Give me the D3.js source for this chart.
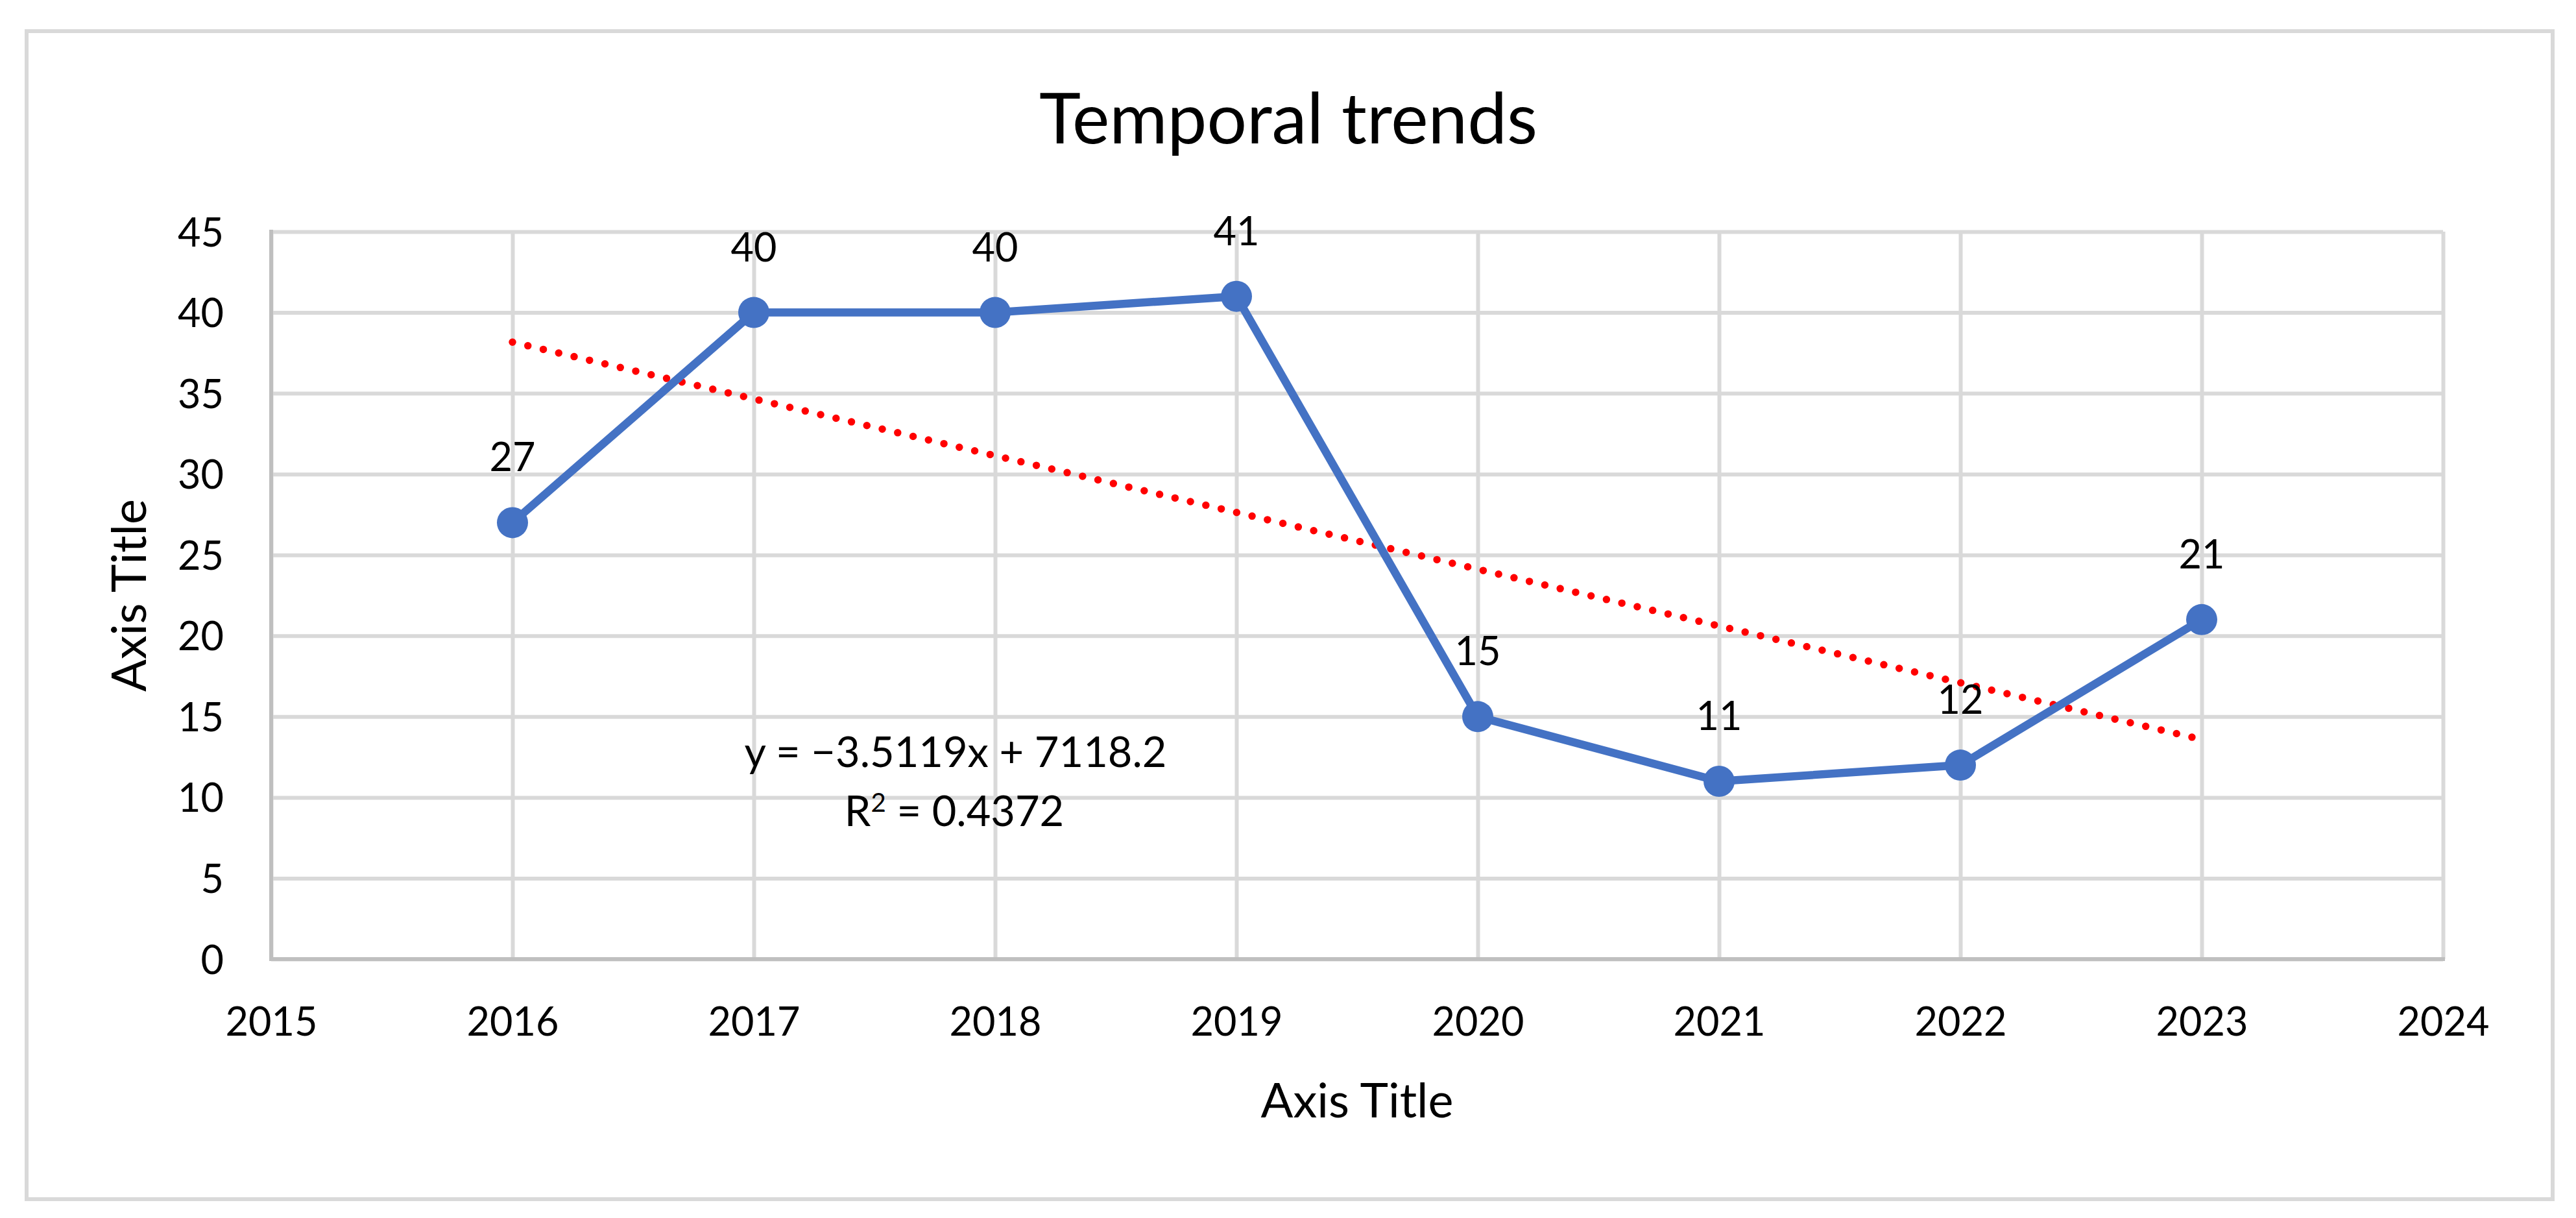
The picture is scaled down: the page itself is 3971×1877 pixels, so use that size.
<!DOCTYPE html>
<html>
<head>
<meta charset="utf-8">
<script src="https://cdn.jsdelivr.net/npm/d3@7"></script>
<style>
  html, body { margin: 0; padding: 0; background: #ffffff; }
  svg { display: block; }
</style>
</head>
<body>
<svg id="chart" width="3971" height="1877"></svg>
<script>
// ---------------- data ----------------
const years = [2016, 2017, 2018, 2019, 2020, 2021, 2022, 2023];
const values = [27, 40, 40, 41, 15, 11, 12, 21];
const xTickValues = [2015, 2016, 2017, 2018, 2019, 2020, 2021, 2022, 2023, 2024];
const yTickValues = [0, 5, 10, 15, 20, 25, 30, 35, 40, 45];
const chartTitle = "Temporal trends";
const xAxisTitle = "Axis Title";
const yAxisTitle = "Axis Title";

// ---------------- layout ----------------
const W = 3971, H = 1877;
const FONT = "Lato, 'Open Sans', 'Noto Sans', sans-serif";
const plot = { left: 418, right: 3766, top: 357, bottom: 1478 };
const GRID = "#d9d9d9", AXIS = "#bfbfbf", BLUE = "#4472c4", RED = "#ff0000";

const svg = d3.select("#chart");
svg.append("rect").attr("width", W).attr("height", H).attr("fill", "#ffffff");

// chart area border
svg.append("rect")
  .attr("x", 41).attr("y", 48)
  .attr("width", 3935 - 41).attr("height", 1848 - 48)
  .attr("fill", "none").attr("stroke", GRID).attr("stroke-width", 6);

const x = d3.scaleLinear().domain([2015, 2024]).range([plot.left, plot.right]);
const y = d3.scaleLinear().domain([0, 45]).range([plot.bottom, plot.top]);

// helper to size a text so its width matches a target width
function fitSize(text, targetWidth, refSize) {
  const t = svg.append("text").attr("font-family", FONT).attr("font-size", refSize).text(text);
  const w = t.node().getComputedTextLength();
  t.remove();
  return refSize * targetWidth / w;
}
const tickSize = fitSize("2015", 142, 100);
const titleSize = fitSize(chartTitle, 768, 100);
const axisTitleSize = fitSize(xAxisTitle, 297, 100);

// ---------------- gridlines ----------------
const gridX = svg.append("g").attr("transform", `translate(0,${plot.bottom})`)
  .call(d3.axisBottom(x).tickValues(xTickValues).tickSize(-(plot.bottom - plot.top)).tickFormat(""));
gridX.select(".domain").remove();
gridX.selectAll(".tick line").attr("stroke", GRID).attr("stroke-width", 6);

const gridY = svg.append("g").attr("transform", `translate(${plot.left},0)`)
  .call(d3.axisLeft(y).tickValues(yTickValues).tickSize(-(plot.right - plot.left)).tickFormat(""));
gridY.select(".domain").remove();
gridY.selectAll(".tick line").attr("stroke", GRID).attr("stroke-width", 6);

// axis lines
svg.append("line").attr("x1", plot.left).attr("x2", plot.left)
  .attr("y1", plot.top - 3).attr("y2", plot.bottom + 3)
  .attr("stroke", AXIS).attr("stroke-width", 6);
svg.append("line").attr("x1", plot.left - 3).attr("x2", plot.right + 3)
  .attr("y1", plot.bottom).attr("y2", plot.bottom)
  .attr("stroke", AXIS).attr("stroke-width", 6);

// ---------------- tick labels ----------------
const axX = svg.append("g").attr("transform", `translate(0,${plot.bottom})`)
  .call(d3.axisBottom(x).tickValues(xTickValues).tickSize(0).tickFormat(d3.format("d")));
axX.select(".domain").remove();
axX.selectAll("text")
  .attr("y", 118).attr("dy", 0)
  .attr("font-family", FONT).attr("font-size", tickSize).attr("fill", "#000");

const axY = svg.append("g").attr("transform", `translate(${plot.left},0)`)
  .call(d3.axisLeft(y).tickValues(yTickValues).tickSize(0).tickFormat(d3.format("d")));
axY.select(".domain").remove();
axY.selectAll("text")
  .attr("x", -73).attr("dy", "0.36em")
  .attr("font-family", FONT).attr("font-size", tickSize).attr("fill", "#000");

// ---------------- trendline (linear regression of the data) ----------------
const mx = d3.mean(years), my = d3.mean(values);
const sxy = d3.sum(years, (d, i) => (d - mx) * (values[i] - my));
const sxx = d3.sum(years, d => (d - mx) * (d - mx));
const slope = sxy / sxx;
const intercept = my - slope * mx;
const sst = d3.sum(values, v => (v - my) * (v - my));
const r2 = (slope * slope * sxx) / sst;

const trendYears = [d3.min(years), d3.max(years)];
svg.append("path")
  .datum(trendYears)
  .attr("d", d3.line().x(d => x(d)).y(d => y(slope * d + intercept)))
  .attr("fill", "none").attr("stroke", RED).attr("stroke-width", 11.5)
  .attr("stroke-linecap", "round").attr("stroke-dasharray", "0 24.4");

// ---------------- series ----------------
const pts = years.map((yr, i) => ({ yr, v: values[i] }));
svg.append("path")
  .datum(pts)
  .attr("d", d3.line().x(d => x(d.yr)).y(d => y(d.v)))
  .attr("fill", "none").attr("stroke", BLUE).attr("stroke-width", 12.5)
  .attr("stroke-linejoin", "round").attr("stroke-linecap", "round");

svg.append("g").selectAll("circle").data(pts).join("circle")
  .attr("cx", d => x(d.yr)).attr("cy", d => y(d.v)).attr("r", 24)
  .attr("fill", BLUE);

// data labels
svg.append("g").selectAll("text").data(pts).join("text")
  .attr("x", d => x(d.yr)).attr("y", d => y(d.v) - 79)
  .attr("text-anchor", "middle")
  .attr("font-family", FONT).attr("font-size", tickSize).attr("fill", "#000")
  .text(d => d.v);

// ---------------- trendline equation ----------------
const eqLine1 = `y = \u2212${Math.abs(slope).toFixed(4)}x + ${intercept.toFixed(1)}`;
const eqSize = fitSize(eqLine1, 651, 100);
svg.append("text").attr("x", 1473).attr("y", 1182).attr("text-anchor", "middle")
  .attr("font-family", FONT).attr("font-size", eqSize).attr("fill", "#000").text(eqLine1);
const r2Text = svg.append("text").attr("x", 1471).attr("y", 1273).attr("text-anchor", "middle")
  .attr("font-family", FONT).attr("font-size", eqSize).attr("fill", "#000");
r2Text.append("tspan").text("R");
r2Text.append("tspan").attr("font-size", eqSize * 0.62).attr("dy", -eqSize * 0.34).text("2");
r2Text.append("tspan").attr("dy", eqSize * 0.34).text(` = ${r2.toFixed(4)}`);

// ---------------- titles ----------------
svg.append("text").attr("x", 1986).attr("y", 221).attr("text-anchor", "middle")
  .attr("font-family", FONT).attr("font-size", titleSize).attr("fill", "#000").text(chartTitle);

svg.append("text").attr("x", (plot.left + plot.right) / 2).attr("y", 1722).attr("text-anchor", "middle")
  .attr("font-family", FONT).attr("font-size", axisTitleSize).attr("fill", "#000").text(xAxisTitle);

svg.append("text")
  .attr("transform", `translate(225,${(plot.top + plot.bottom) / 2}) rotate(-90)`)
  .attr("text-anchor", "middle")
  .attr("font-family", FONT).attr("font-size", axisTitleSize).attr("fill", "#000").text(yAxisTitle);
</script>
</body>
</html>
